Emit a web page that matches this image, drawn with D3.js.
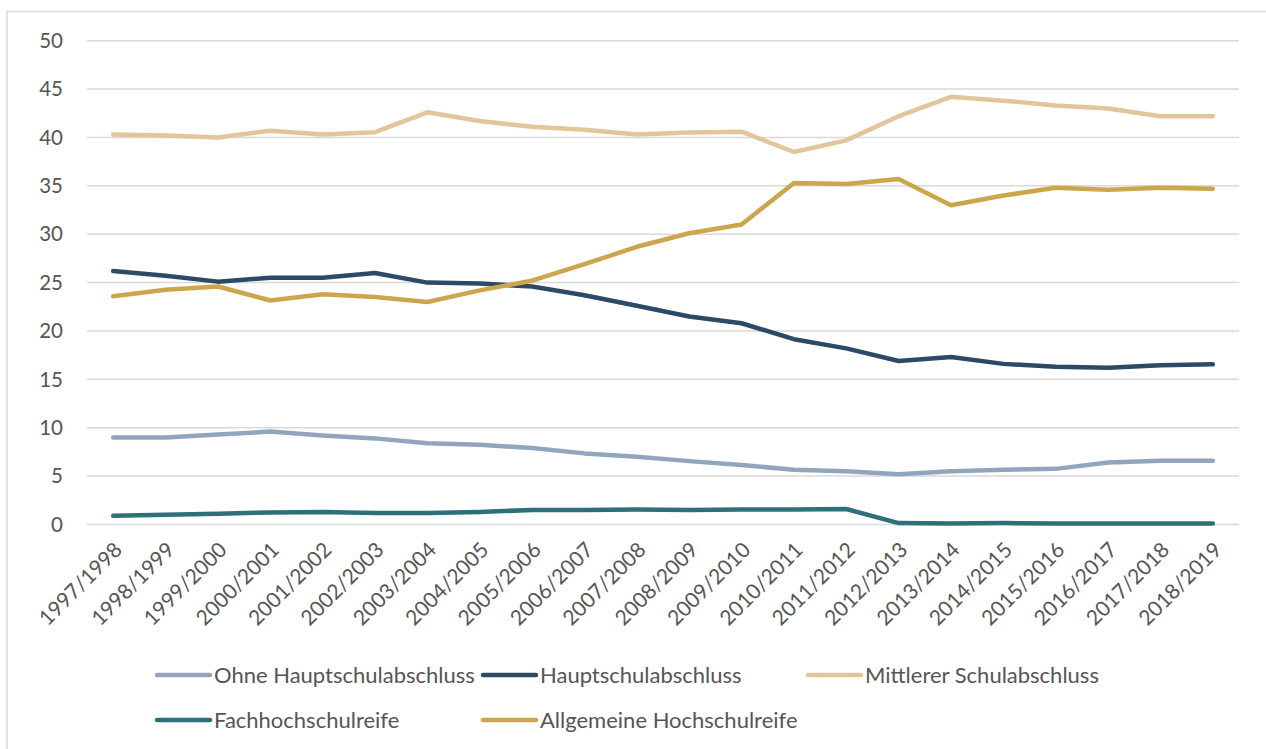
<!DOCTYPE html>
<html>
<head>
<meta charset="utf-8">
<script src="https://cdn.jsdelivr.net/npm/d3@7"></script>
<style>
  body { margin: 0; background: #fff; }
  text { font-family: Lato, "Open Sans", sans-serif; fill: #555; }
</style>
</head>
<body>
<svg id="chart" width="1266" height="749"></svg>
<script>
// categories (school years)
var years = ["1997/1998", "1998/1999", "1999/2000", "2000/2001", "2001/2002", "2002/2003",
    "2003/2004", "2004/2005", "2005/2006", "2006/2007", "2007/2008", "2008/2009",
    "2009/2010", "2010/2011", "2011/2012", "2012/2013", "2013/2014", "2014/2015",
    "2015/2016", "2016/2017", "2017/2018", "2018/2019"];

// series values
var ohneHauptschul = [9.0, 9.0, 9.3, 9.6, 9.2, 8.9, 8.4, 8.25, 7.9, 7.35, 7.0, 6.55,
    6.15, 5.65, 5.5, 5.2, 5.5, 5.65, 5.75, 6.4, 6.6, 6.6];
var hauptschul = [26.2, 25.7, 25.1, 25.5, 25.5, 26.0, 25.0, 24.9, 24.6, 23.7, 22.6, 21.5,
    20.8, 19.15, 18.2, 16.9, 17.3, 16.6, 16.3, 16.2, 16.45, 16.55];
var mittlerer = [40.3, 40.2, 40.0, 40.7, 40.3, 40.55, 42.6, 41.7, 41.1, 40.8, 40.3, 40.5,
    40.6, 38.5, 39.7, 42.2, 44.2, 43.8, 43.3, 43.0, 42.2, 42.2];
var fachhochschul = [0.9, 1.0, 1.1, 1.25, 1.3, 1.2, 1.2, 1.3, 1.5, 1.5, 1.55, 1.5,
    1.55, 1.55, 1.6, 0.15, 0.1, 0.15, 0.1, 0.1, 0.1, 0.1];
var allgemeine = [23.6, 24.25, 24.6, 23.15, 23.8, 23.5, 23.0, 24.2, 25.2, 26.9, 28.7, 30.1,
    31.0, 35.3, 35.2, 35.7, 33.0, 34.0, 34.8, 34.6, 34.8, 34.7];

// y ticks
var yTicks = [0, 5, 10, 15, 20, 25, 30, 35, 40, 45, 50];

var series = [
    { name: "Ohne Hauptschulabschluss", values: ohneHauptschul, color: "#91a6bc" },
    { name: "Hauptschulabschluss", values: hauptschul, color: "#2c4a67" },
    { name: "Mittlerer Schulabschluss", values: mittlerer, color: "#e2c699" },
    { name: "Fachhochschulreife", values: fachhochschul, color: "#2e7078" },
    { name: "Allgemeine Hochschulreife", values: allgemeine, color: "#cda54d" }
];

var svg = d3.select("#chart");

// chart frame (only left/top edges visible)
svg.append("rect")
    .attr("x", 7).attr("y", 11.5)
    .attr("width", 1400).attr("height", 900)
    .attr("fill", "none")
    .attr("stroke", "#d9d9d9")
    .attr("stroke-width", 1.5);

var x = d3.scalePoint()
    .domain(years)
    .range([87, 1239])
    .padding(0.5);

var y = d3.scaleLinear()
    .domain([0, 50])
    .range([524.5, 40.7]);

// gridlines
svg.append("g")
    .selectAll("line")
    .data(yTicks)
    .enter().append("line")
    .attr("x1", 87).attr("x2", 1239)
    .attr("y1", function (d) { return y(d); })
    .attr("y2", function (d) { return y(d); })
    .attr("stroke", "#d9d9d9")
    .attr("stroke-width", 1.5);

// y axis labels
svg.append("g")
    .selectAll("text")
    .data(yTicks)
    .enter().append("text")
    .attr("x", 63)
    .attr("y", function (d) { return y(d); })
    .attr("dy", "0.35em")
    .attr("text-anchor", "end")
    .attr("font-size", "20.5px")
    .text(function (d) { return d; });

// x axis labels, rotated
svg.append("g")
    .selectAll("text")
    .data(years)
    .enter().append("text")
    .attr("transform", function (d) {
        return "translate(" + (x(d) + 5) + ",546) rotate(-45)";
    })
    .attr("text-anchor", "end")
    .attr("dy", "0.35em")
    .attr("font-size", "21px")
    .text(function (d) { return d; });

// lines
var line = d3.line()
    .x(function (d, i) { return x(years[i]); })
    .y(function (d) { return y(d); });

svg.append("g")
    .selectAll("path")
    .data(series)
    .enter().append("path")
    .attr("d", function (d) { return line(d.values); })
    .attr("fill", "none")
    .attr("stroke", function (d) { return d.color; })
    .attr("stroke-width", 4.5)
    .attr("stroke-linejoin", "round")
    .attr("stroke-linecap", "round");

// legend
var legendCols = [155, 481, 806];
var legendRows = [675, 720];
var leg = svg.append("g")
    .selectAll("g")
    .data(series)
    .enter().append("g")
    .attr("transform", function (d, i) {
        return "translate(" + legendCols[i % 3] + "," + legendRows[Math.floor(i / 3)] + ")";
    });

leg.append("line")
    .attr("x1", 2).attr("x2", 55)
    .attr("y1", 0).attr("y2", 0)
    .attr("stroke", function (d) { return d.color; })
    .attr("stroke-width", 4.5)
    .attr("stroke-linecap", "round");

leg.append("text")
    .attr("x", 59)
    .attr("y", 0)
    .attr("dy", "0.35em")
    .attr("font-size", "22px")
    .text(function (d) { return d.name; });
</script>
</body>
</html>
